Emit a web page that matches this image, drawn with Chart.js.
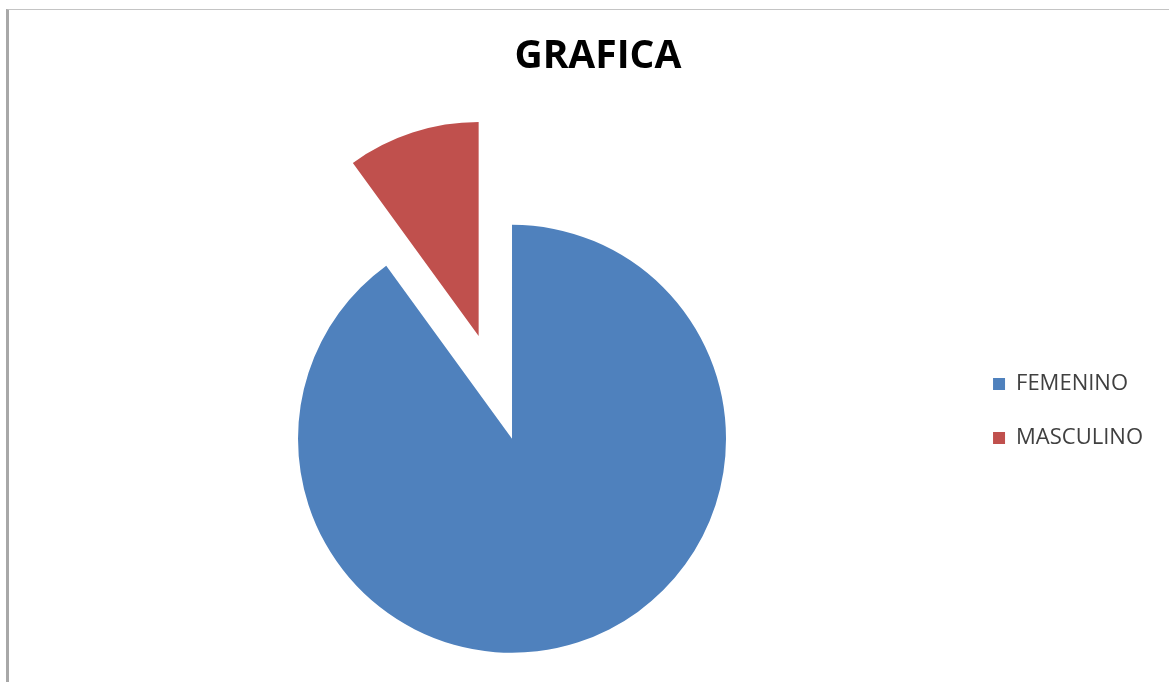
<!DOCTYPE html>
<html>
<head>
<meta charset="utf-8">
<title>GRAFICA</title>
<script src="https://cdn.jsdelivr.net/npm/chart.js@4/dist/chart.umd.min.js"></script>
<style>
  html, body { margin: 0; padding: 0; background: #fff; }
  #wrap { position: relative; width: 1169px; height: 682px; overflow: hidden; }
  #grafica { position: absolute; left: 0; top: 0; }
  /* marco del grafico */
  #marco {
    position: absolute; left: 6px; top: 9px; right: -2px; bottom: -2px;
    border-left: 3px solid #a8a8a8; border-top: 1px solid #c4c4c4;
    pointer-events: none;
  }
</style>
</head>
<body>
<div id="wrap">
  <canvas id="grafica" width="1169" height="682"></canvas>
  <div id="marco"></div>
</div>
<script>
const ctx_graf = 'grafica';

var sexos = ["FEMENINO", "MASCULINO"];
var cantidades = [27, 3];
var colores = ["#4F81BD", "#C0504D"];

// porcion separada del centro (indice y distancia en px)
const porcionSeparada = 1;
const distanciaSeparada = 108;

// el offset de Chart.js agranda y estrecha la porcion, asi que
// se desplaza a mano al dibujarla
const separarPorcion = {
    id: 'separarPorcion',
    afterDatasetUpdate(chart, args) {
        const arc = args.meta.data[porcionSeparada];
        if (!arc || arc._separada) return;
        arc._separada = true;
        const dibujar = arc.draw;
        arc.draw = function (ctx) {
            const medio = (this.startAngle + this.endAngle) / 2;
            ctx.save();
            ctx.translate(Math.cos(medio) * distanciaSeparada, Math.sin(medio) * distanciaSeparada);
            dibujar.call(this, ctx);
            ctx.restore();
        };
    }
};

const grafica = new Chart(ctx_graf, {
    type: "pie",
    data: {
        labels: sexos,
        datasets: [{
            label: 'Estudiantes',
            data: cantidades,
            backgroundColor: colores,
            borderWidth: 0,
            radius: 214,
            clip: false
        }]
    },
    plugins: [separarPorcion],
    options: {
        responsive: false,
        animation: false,
        events: [],
        layout: {
            padding: { left: 63, right: 16, top: 10, bottom: 10 }
        },
        plugins: {
            title: {
                display: true,
                // espacios al final para correr el titulo un poco a la izquierda
                text: "GRAFICA  ",
                color: "#000",
                font: { family: "Open Sans", size: 39, weight: "bold" },
                padding: { top: 23, bottom: 125.8 }
            },
            legend: {
                display: true,
                position: 'right',
                title: {
                    display: true,
                    text: '',
                    font: { size: 12 },
                    padding: { top: 0, bottom: 125.6 }
                },
                labels: {
                    boxWidth: 12,
                    boxHeight: 12,
                    padding: 32,
                    color: "#404040",
                    font: { family: "Open Sans", size: 22 }
                }
            },
            tooltip: { enabled: false }
        }
    }
});
</script>
</body>
</html>
